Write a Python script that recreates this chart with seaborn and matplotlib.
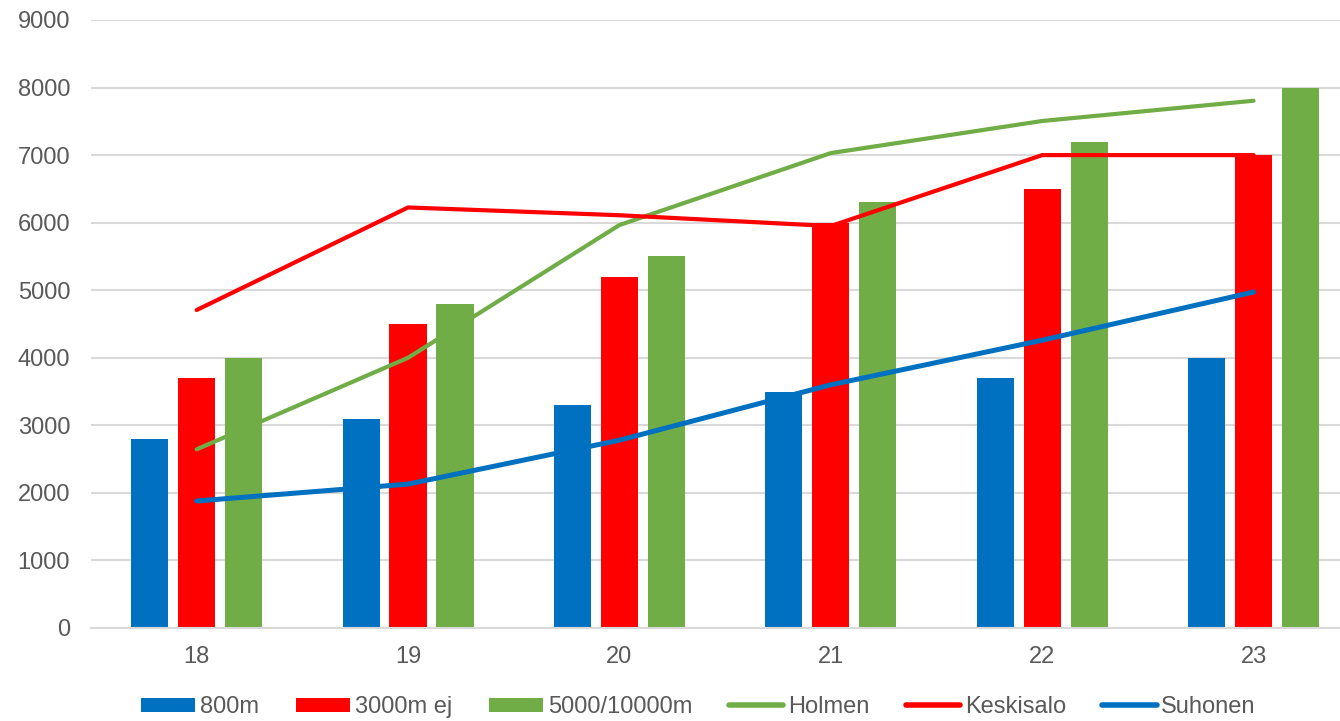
import numpy as np
import pandas as pd
import matplotlib
matplotlib.use("Agg")
import matplotlib.pyplot as plt
import seaborn as sns

ages = [18, 19, 20, 21, 22, 23]
bar_series = ["800m", "3000m ej", "5000/10000m"]
v800 = [2800, 3100, 3300, 3500, 3700, 4000]
v3000 = [3700, 4500, 5200, 6000, 6500, 7000]
v5000 = [4000, 4800, 5500, 6300, 7200, 8000]
line_series = ["Holmen", "Keskisalo", "Suhonen"]
holmen = [2645, 4000, 5965, 7030, 7505, 7805]
keskisalo = [4707, 6225, 6110, 5950, 7000, 7000]
suhonen = [1880, 2130, 2780, 3600, 4260, 4973]

BLUE = "#0070C0"
RED = "#FF0000"
GREEN = "#70AD47"
GRID = "#D9D9D9"
TXT = "#595959"

sns.set_theme(style="white")
plt.rcParams["font.family"] = ["Liberation Sans", "DejaVu Sans"]

bars = pd.DataFrame({
    "age": ages * 3,
    "value": v800 + v3000 + v5000,
    "series": sum([[s] * len(ages) for s in bar_series], []),
})

W, H = 1340, 721
fig = plt.figure(figsize=(W / 100, H / 100), dpi=100)
ax = fig.add_axes([91 / W, (H - 628) / H, (W - 91) / W, 608 / H])

sns.barplot(data=bars, x="age", y="value", hue="series", hue_order=bar_series,
            palette=[BLUE, RED, GREEN], width=0.667, gap=0.21, errorbar=None,
            linewidth=0, saturation=1, ax=ax, zorder=2)

pos = np.arange(len(ages))
for name, vals, col, lw in [("Holmen", holmen, GREEN, 3.0),
                            ("Keskisalo", keskisalo, RED, 3.0),
                            ("Suhonen", suhonen, BLUE, 3.6)]:
    sns.lineplot(x=pos, y=vals, color=col, linewidth=lw, label=name, ax=ax,
                 solid_capstyle="round", zorder=3)

ax.set_xlim(-0.5, 5.409)
ax.set_ylim(0, 9000)
ax.set_yticks(np.arange(0, 9001, 1000))
ax.yaxis.grid(True, color=GRID, linewidth=1.5, zorder=0)
ax.set_axisbelow(True)
for s in ["top", "right", "left"]:
    ax.spines[s].set_visible(False)
ax.spines["bottom"].set_color(GRID)
ax.spines["bottom"].set_linewidth(1.5)
ax.tick_params(axis="both", length=0, labelsize=17, colors=TXT)
ax.tick_params(axis="y", pad=15)
ax.tick_params(axis="x", pad=13)
ax.set_xlabel("")
ax.set_ylabel("")

handles, labels = ax.get_legend_handles_labels()
order = bar_series + line_series
hmap = dict(zip(labels, handles))
leg = ax.legend([hmap[l] for l in order], order, ncol=6, loc="center",
                bbox_to_anchor=(698.5 / W, (H - 707) / H),
                bbox_transform=fig.transFigure, frameon=False,
                fontsize=17, handlelength=2.3, handleheight=0.55,
                handletextpad=0.2, columnspacing=1.55, labelcolor=TXT,
                borderaxespad=0, borderpad=0)
for lh in leg.get_lines():
    lh.set_linewidth(4.0)
    lh.set_solid_capstyle("round")

fig.savefig("out.png", dpi=100)
